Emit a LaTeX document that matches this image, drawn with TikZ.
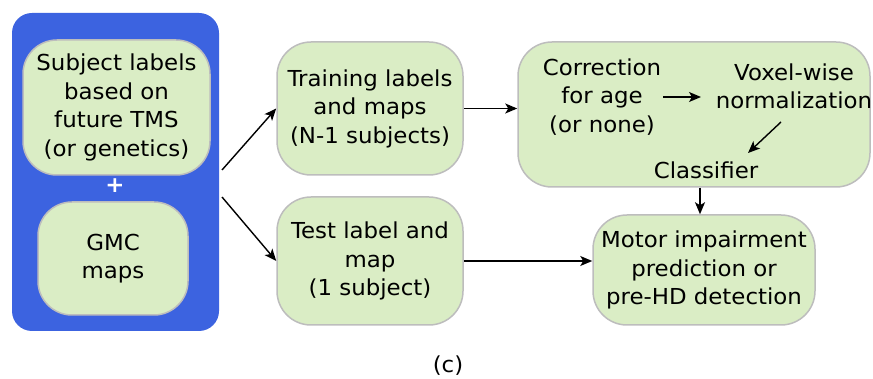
\documentclass[tikz,border=0pt]{standalone}
\usepackage{fontspec}
\setmainfont{DejaVu Sans}[FakeStretch=1.04]
\usetikzlibrary{arrows.meta}
\definecolor{boxgreen}{HTML}{DAEDC5}
\definecolor{boxgray}{HTML}{BDBDBD}
\definecolor{panelblue}{HTML}{3C63E0}
\tikzset{
	stagebox/.style={draw=boxgray, line width=1.5pt, fill=boxgreen, rounded corners=34pt, align=center, inner sep=0pt},
	plain/.style={align=center, inner sep=0pt},
	flow/.style={-{Stealth[length=12pt, width=10pt, inset=3pt]}, line width=1.4pt}
}
\begin{document}
\begin{tikzpicture}[x=1pt, y=-1pt, font=\fontsize{22}{28.5}\selectfont]
	\useasboundingbox (0,0) rectangle (873,379);

	% input panel
	\fill[panelblue, rounded corners=20pt] (12,13) rectangle (219,331);
	\node[stagebox, minimum width=187pt, minimum height=135pt] (subj) at (116.5,107.5) {Subject labels\\based on\\future TMS\\(or genetics)};
	\node[plain, text=white, font=\fontsize{22}{28.5}\bfseries] (plus) at (115,186) {+};
	\node[stagebox, minimum width=150pt, minimum height=113pt] (gmc) at (113,258.5) {GMC\\maps};
	\coordinate (split1) at (222,170);
	\coordinate (split2) at (222,197);

	% training / test split
	\node[stagebox, minimum width=186pt, minimum height=133pt] (train) at (370,108.5) {Training labels\\and maps\\(N-1 subjects)};
	\node[stagebox, minimum width=186pt, minimum height=128pt] (test) at (370,261) {Test label and\\map\\(1 subject)};

	% model
	\node[stagebox, minimum width=352pt, minimum height=145pt] (model) at (694,114.5) {};
	\node[plain] (age) at (602,97) {Correction\\for age\\(or none)};
	\node[plain] (norm) at (794,86.5) {Voxel-wise\\normalization};
	\node[plain] (clf) at (706,170) {Classifier};

	% result
	\node[stagebox, minimum width=222pt, minimum height=110pt] (out) at (704,270) {Motor impairment\\prediction or\\pre-HD detection};

	\draw[flow] (split1) -- (train.west);
	\draw[flow] (split2) -- (test.west);
	\draw[flow] (train.east) -- (model.west |- train.east);
	\draw[flow] (test.east) -- (out.west |- test.east);
	\draw[flow] (663,97) -- (701,97);
	\draw[flow] (781,122) -- (748,153);
	\draw[flow] (model.south -| 700,0) -- (out.north -| 700,0);

	\node[plain] (cap) at (448,366) {(c)};
\end{tikzpicture}
\end{document}
